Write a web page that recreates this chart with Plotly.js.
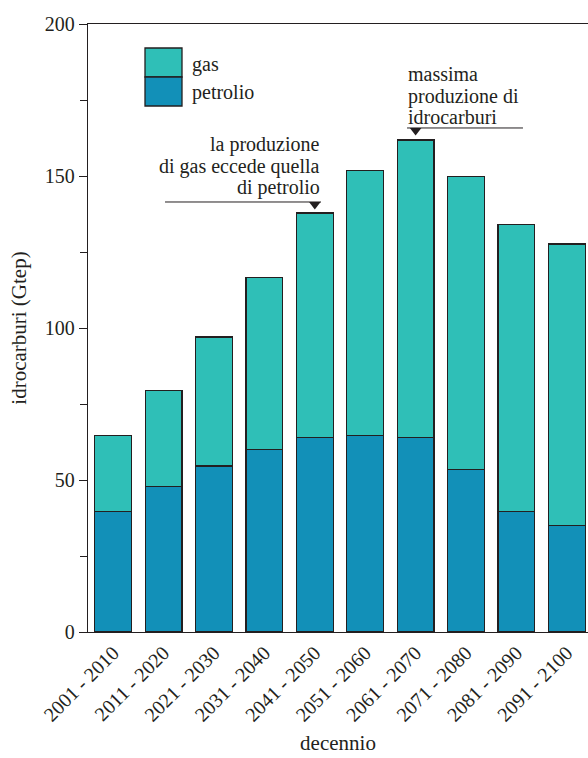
<!DOCTYPE html>
<html>
<head>
<meta charset="utf-8">
<script src="https://cdn.plot.ly/plotly-3.0.1.min.js"></script>
<style>html,body{margin:0;padding:0;background:#fff;}#chart{width:588px;height:758px;}</style>
</head>
<body>
<div id="chart"></div>
<script>
const categories = ["2001 - 2010","2011 - 2020","2021 - 2030","2031 - 2040","2041 - 2050","2051 - 2060","2061 - 2070","2071 - 2080","2081 - 2090","2091 - 2100"];
const petrolio = [39.7, 47.8, 54.6, 60.0, 63.9, 64.6, 63.9, 53.5, 39.7, 35.0];
const totale = [64.6, 79.4, 97.0, 116.5, 137.8, 151.7, 161.8, 149.8, 134.0, 127.6];
const gas = totale.map((t, i) => +(t - petrolio[i]).toFixed(1));
const yTicks = [0, 50, 100, 150, 200];

const FONT = "'Times New Roman', 'Liberation Serif', Tinos, 'DejaVu Serif', serif";
const dark = "#231f20";
const colPetrolio = "#1290b8";
const colGas = "#2fbfb7";

const traces = [
  {type: "bar", name: "petrolio", x: categories, y: petrolio, width: 0.73,
   marker: {color: colPetrolio, line: {color: dark, width: 1.3}}, hoverinfo: "skip", showlegend: false},
  {type: "bar", name: "gas", x: categories, y: gas, width: 0.73,
   marker: {color: colGas, line: {color: dark, width: 1.3}}, hoverinfo: "skip", showlegend: false},
  {type: "scatter", mode: "markers", x: [categories[4], categories[6]], y: [140.6, 165.0],
   marker: {symbol: "triangle-down", size: 10, color: dark}, hoverinfo: "skip", showlegend: false}
];

function txt(text, x, y, xanchor, xref, yref) {
  return {text: text, x: x, y: y, xref: xref || "x", yref: yref || "y", xanchor: xanchor, yanchor: "middle",
          showarrow: false, borderpad: 0, font: {family: FONT, size: 20, color: dark}};
}

const annotations = [
  txt("la produzione", 4.123, 160.2, "right"),
  txt("di gas eccede quella", 4.123, 153.0, "right"),
  txt("di petrolio", 4.123, 146.1, "right"),
  txt("massima", 5.83, 183.6, "left"),
  txt("produzione di", 5.83, 176.3, "left"),
  txt("idrocarburi", 5.83, 169.4, "left"),
  txt("gas", 0.206, 0.934, "left", "paper", "paper"),
  txt("petrolio", 0.206, 0.888, "left", "paper", "paper")
];

const shapes = [
  {type: "line", xref: "x", yref: "y", x0: 1.028, x1: 4.123, y0: 141.45, y1: 141.45, line: {color: dark, width: 1}},
  {type: "line", xref: "x", yref: "y", x0: 5.83, x1: 8.13, y0: 165.8, y1: 165.8, line: {color: dark, width: 1}},
  {type: "rect", xref: "paper", yref: "paper", x0: 0.114, x1: 0.188, y0: 0.9128, y1: 0.9605, fillcolor: colGas, line: {color: dark, width: 1.3}},
  {type: "rect", xref: "paper", yref: "paper", x0: 0.114, x1: 0.188, y0: 0.8651, y1: 0.9128, fillcolor: colPetrolio, line: {color: dark, width: 1.3}}
];

const layout = {
  width: 588, height: 758,
  margin: {l: 88, r: 0, t: 24, b: 126},
  barmode: "stack",
  paper_bgcolor: "#fff", plot_bgcolor: "#fff",
  font: {family: FONT, color: dark, size: 20},
  xaxis: {
    type: "category", range: [-0.5, 9.42], showgrid: false, zeroline: false,
    showline: true, linecolor: dark, linewidth: 1.3, mirror: true,
    ticks: "", tickangle: -45, tickfont: {family: FONT, size: 20, color: dark},
    title: {text: "decennio", font: {family: FONT, size: 21, color: dark}, standoff: 10}
  },
  yaxis: {
    range: [0, 200], tickvals: yTicks, ticktext: yTicks.map(String), showgrid: false, zeroline: false,
    showline: true, linecolor: dark, linewidth: 1.3,
    ticks: "outside", ticklen: 8, tickcolor: dark, tickwidth: 1,
    minor: {tickvals: [25, 75, 125, 175], ticks: "outside", ticklen: 7, tickcolor: dark, tickwidth: 1, showgrid: false},
    tickfont: {family: FONT, size: 20, color: dark},
    title: {text: "idrocarburi (Gtep)", font: {family: FONT, size: 21, color: dark}, standoff: 12}
  },
  annotations: annotations,
  shapes: shapes
};

Plotly.newPlot("chart", traces, layout, {staticPlot: true, displayModeBar: false});
</script>
</body>
</html>
